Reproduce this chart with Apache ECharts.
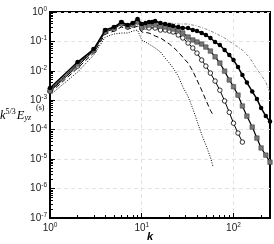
<!DOCTYPE html>
<html><head><meta charset="utf-8">
<script src="https://cdn.jsdelivr.net/npm/echarts@6/dist/echarts.min.js"></script>
<style>html,body{margin:0;padding:0;background:#fff}#c{width:274px;height:244px}</style>
</head><body><div id="c"></div>
<script>
// wavenumbers and spectra
const kA = [1,2,3,4,5,6,7,8,9,10,12,14,16,20,25,32,40,50,63,80,100,125,150,170,200,225,250];
const eA = [2.2e-3,0.017,0.051,0.226,0.286,0.423,0.334,0.391,0.534,0.361,0.423,0.457,0.457,0.423,0.391,0.391,0.334,0.264,0.193,0.131,0.0816,0.0510,0.0284,0.0150,0.0072,0.0042,1.8e-3];

const kB = [1,2,3,4,5,6,7,8,9,10,11,12,13,14,16,18,20,22,25,28,32,36,40,45,50,56,63,71,80,90,100,112,125,140,160,180,200,225,250];
const eB = [2.6e-3,0.0199,0.055,0.244,0.309,0.457,0.361,0.423,0.578,0.391,0.423,0.457,0.457,0.494,0.423,0.391,0.361,0.334,0.309,0.286,0.286,0.244,0.226,0.193,0.165,0.131,0.0955,0.0755,0.0510,0.0345,0.0233,0.0135,7.2e-3,4.0e-3,2.0e-3,1.1e-3,5.5e-4,2.9e-4,1.9e-4];

const kC = [1,2,3,4,5,6,7,8,9,10,11,12,14,16,18,20,22,25,28,32,36,40,45,50,56,63,71,80,90,100,112,125,140,160,180,200,225,250];
const eC = [2.2e-3,0.017,0.051,0.226,0.286,0.423,0.334,0.391,0.494,0.309,0.361,0.361,0.361,0.334,0.309,0.286,0.264,0.244,0.193,0.141,0.112,0.0955,0.0816,0.0645,0.0472,0.0300,0.0184,9.8e-3,4.9e-3,2.9e-3,1.5e-3,6.4e-4,2.9e-4,1.23e-4,5.2e-5,2.4e-5,1.37e-5,7.9e-6];

const kD = [1,2,3,4,5,6,7,8,9,10,11,12,14,16,18,20,22,25,28,32,36,40,45,50,56,63,71,80,90,100,112,125];
const eD = [2.0e-3,0.0145,0.048,0.209,0.264,0.391,0.309,0.361,0.457,0.286,0.309,0.286,0.286,0.244,0.244,0.226,0.209,0.165,0.131,0.0883,0.0597,0.0401,0.0233,0.0145,8.4e-3,4.5e-3,2.2e-3,9.5e-4,3.9e-4,1.67e-4,7.7e-5,3.8e-5];

const kE = [1,2,3,4,5,6,7,8,9,10,12,14,16,18,20,22,25,28,32,36,40,45,50,56,60];
const eE = [1.76e-3,0.0124,0.041,0.179,0.226,0.309,0.264,0.286,0.334,0.209,0.193,0.153,0.131,0.103,0.0816,0.0645,0.0436,0.0292,0.0184,9.8e-3,4.9e-3,2.2e-3,1.02e-3,4.6e-4,3.1e-4];

const kF = [1,2,3,4,5,6,7,8,9,10,11,12,14,16,18,20,22,25,28,32,36,40,45,50,56,60];
const eF = [1.5e-3,9.1e-3,0.0345,0.141,0.179,0.193,0.193,0.226,0.244,0.112,0.0955,0.0816,0.0597,0.0436,0.0272,0.0184,0.0124,6.6e-3,2.9e-3,1.33e-3,5.2e-4,2.0e-4,6.9e-5,3.0e-5,1.17e-5,5.4e-6];

const xMajor = [1,10,100];
const xMinor = [2,3,4,5,6,7,8,9,20,30,40,50,60,70,80,90,200];
const yMajor = [1e-7,1e-6,1e-5,1e-4,1e-3,1e-2,1e-1,1];
const yMinor = [];
[1e-7,1e-6,1e-5,1e-4,1e-3,1e-2,1e-1].forEach(d=>{for(let m=2;m<=9;m++) yMinor.push(+(m*d).toPrecision(3));});

function pairs(k,e){return k.map((v,i)=>[v,e[i]]);}
function powLabel(v){const e=Math.round(Math.log10(v));return '{b|10}{s|'+e+'}';}
const labelRich = {b:{fontSize:10,color:'#222',fontFamily:'Liberation Sans'}, s:{fontSize:6.5,color:'#222',fontFamily:'Liberation Sans',padding:[0,0,6,0]}};

const chart = echarts.init(document.getElementById('c'), null, {renderer:'canvas'});
const baseX = {type:'log', logBase:10, min:1, max:250, position:'bottom'};
const baseY = {type:'log', logBase:10, min:1e-7, max:1, position:'left'};
chart.setOption({
  animation:false,
  grid:{left:50, right:4, top:12, bottom:26, show:true, borderColor:'#000', borderWidth:2, backgroundColor:'transparent'},
  xAxis:[
    Object.assign({}, baseX, {
      axisLine:{show:true,onZero:false,lineStyle:{color:'#000',width:2}},
      axisTick:{show:true,inside:true,length:5,customValues:xMajor,lineStyle:{color:'#000',width:1}},
      axisLabel:{show:true,customValues:xMajor,formatter:powLabel,rich:labelRich,margin:4},
      splitLine:{show:true,lineStyle:{color:'#e2e2e2',width:1,type:[4,3]}}
    }),
    Object.assign({}, baseX, {
      axisLine:{show:false},
      axisTick:{show:true,inside:true,length:3,customValues:xMinor,lineStyle:{color:'#000',width:1}},
      axisLabel:{show:false}, splitLine:{show:false}
    })
  ],
  yAxis:[
    Object.assign({}, baseY, {
      axisLine:{show:true,onZero:false,lineStyle:{color:'#000',width:2}},
      axisTick:{show:true,inside:true,length:5,customValues:yMajor,lineStyle:{color:'#000',width:1}},
      axisLabel:{show:true,customValues:yMajor,formatter:powLabel,rich:labelRich,margin:3},
      splitLine:{show:true,lineStyle:{color:'#e2e2e2',width:1,type:[4,3]}}
    }),
    Object.assign({}, baseY, {
      axisLine:{show:false},
      axisTick:{show:true,inside:true,length:3,customValues:yMinor,lineStyle:{color:'#000',width:1}},
      axisLabel:{show:false}, splitLine:{show:false}
    })
  ],
  graphic:[
    {type:'text', left:0, top:108, style:{text:'{i|k}{p|5/3}{i|E}{q|yz}', rich:{
      i:{fontSize:12.5,fontStyle:'italic',fontFamily:'Liberation Serif',fill:'#000'},
      p:{fontSize:8,fontFamily:'Liberation Serif',fill:'#000',padding:[0,1,7,0]},
      q:{fontSize:8,fontStyle:'italic',fontFamily:'Liberation Serif',fill:'#000',padding:[0,0,-4,0]}
    }}},
    {type:'text', left:36, top:104, style:{text:'(s)', fontSize:8, fontFamily:'Liberation Serif', fill:'#000'}},
    {type:'text', left:147, top:231, style:{text:'k', fontSize:11, fontStyle:'italic', fontWeight:'bold', fontFamily:'Liberation Sans', fill:'#000'}}
  ],
  series:[
    {type:'line', data:pairs(kF,eF), symbol:'none', lineStyle:{color:'#000',width:1,type:[1,1.5]}, z:2},
    {type:'line', data:pairs(kE,eE), symbol:'none', lineStyle:{color:'#000',width:1,type:[5,3]}, z:2},
    {type:'line', data:pairs(kD,eD), symbol:'circle', symbolSize:4.5, itemStyle:{color:'#fff',borderColor:'#000',borderWidth:0.8}, lineStyle:{color:'#000',width:1}, z:3},
    {type:'line', data:pairs(kC,eC), symbol:'rect', symbolSize:4.5, itemStyle:{color:'#777',borderColor:'#333',borderWidth:0.5}, lineStyle:{color:'#000',width:1.2}, z:3},
    {type:'line', data:pairs(kB,eB), symbol:'circle', symbolSize:4.5, itemStyle:{color:'#000'}, lineStyle:{color:'#000',width:1.5}, z:4},
    {type:'line', data:pairs(kA,eA), symbol:'none', lineStyle:{color:'#888',width:1,type:[3,1.5,1,1.5]}, z:3}
  ]
});
</script></body></html>
